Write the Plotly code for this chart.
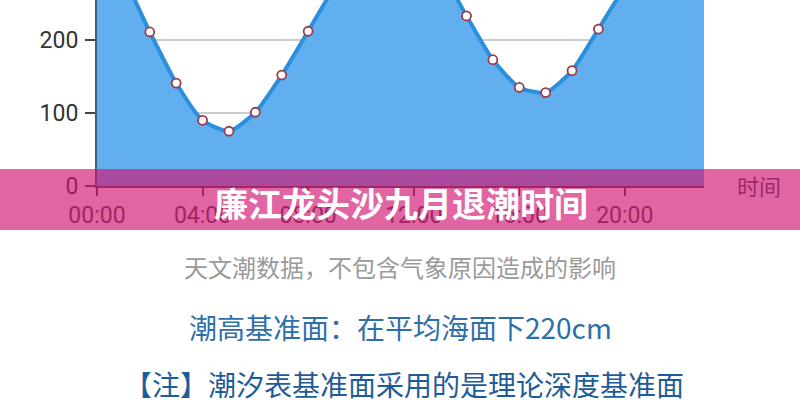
import plotly.graph_objects as go

hours = list(range(24))
heights = [325, 285, 211, 141, 90, 75, 101, 152, 212, 272, 312, 328, 322, 295,
           233, 173, 135, 128, 158, 215, 272, 312, 330, 326]
tick_hours = [0, 4, 8, 12, 16, 20]
tick_labels = ["00:00", "04:00", "08:00", "12:00", "16:00", "20:00"]
y_ticks = [0, 100, 200]

title_text = "廉江龙头沙九月退潮时间"
note1 = "天文潮数据，不包含气象原因造成的影响"
note2 = "潮高基准面：在平均海面下220cm"
note3 = "【注】潮汐表基准面采用的是理论深度基准面"
x_axis_name = "时间"

W, H = 800, 400
def px(x):
    return x / W
def py(y):
    return 1 - y / H

font_cjk = "Noto Sans CJK SC"

fig = go.Figure()
fig.add_trace(go.Scatter(
    x=hours, y=heights, mode="lines+markers",
    line=dict(color="#2b8fdc", width=4, shape="spline", smoothing=0.6),
    fill="tozeroy", fillcolor="#62aff0",
    marker=dict(size=9, color="white", line=dict(color="#9b3a4a", width=1.8)),
    hoverinfo="skip", showlegend=False,
))

fig.update_layout(
    template="none",
    width=W, height=H,
    margin=dict(l=0, r=0, t=0, b=0, autoexpand=False),
    paper_bgcolor="white", plot_bgcolor="white",
    font=dict(family=font_cjk, color="#333333"),
    xaxis=dict(
        domain=[px(97), px(704)], range=[0, 23], automargin=False,
        tickvals=tick_hours, ticktext=tick_labels,
        tickfont=dict(size=23, family="Roboto", color="#444444"),
        ticks="outside", ticklen=8, tickcolor="#444444", tickwidth=1.5,
        showline=True, linecolor="#444444", linewidth=1.5,
        showgrid=False, zeroline=False, layer="above traces",
        fixedrange=True,
    ),
    yaxis=dict(
        domain=[py(186), 1], range=[0, 254.8], automargin=False,
        tickvals=y_ticks,
        tickfont=dict(size=23, family="Roboto", color="#333333"),
        ticks="outside", ticklen=10, tickcolor="#444444", tickwidth=1.5,
        ticklabelstandoff=2,
        showline=True, linecolor="#3d5f7a", linewidth=2,
        showgrid=True, gridcolor="rgba(110,110,110,0.35)", gridwidth=1.5,
        zeroline=False, layer="above traces",
        fixedrange=True,
    ),
)

# pink semi-transparent banner over the chart
fig.add_shape(type="rect", xref="paper", yref="paper",
              x0=-0.01, x1=1.01, y0=py(230), y1=py(169),
              fillcolor="rgba(210,20,115,0.66)", line=dict(width=0), layer="above")

def note(x, y, text, size, color):
    fig.add_annotation(x=px(x), y=py(y), xref="paper", yref="paper",
                       xanchor="center", yanchor="middle",
                       text=text, showarrow=False,
                       font=dict(size=size, color=color, family=font_cjk))

note(759, 185, x_axis_name, 22, "#9a2a68")
note(401, 202, "<b>" + title_text + "</b>", 34, "white")
note(400, 266, note1, 24, "#9a9a9a")
note(400, 327, note2, 28, "#2f6fa8")
note(404, 384, note3, 28, "#1e5c99")

fig.write_html("out.html", config=dict(displayModeBar=False),
               post_script="document.body.style.margin='0';document.body.style.overflow='hidden';")
